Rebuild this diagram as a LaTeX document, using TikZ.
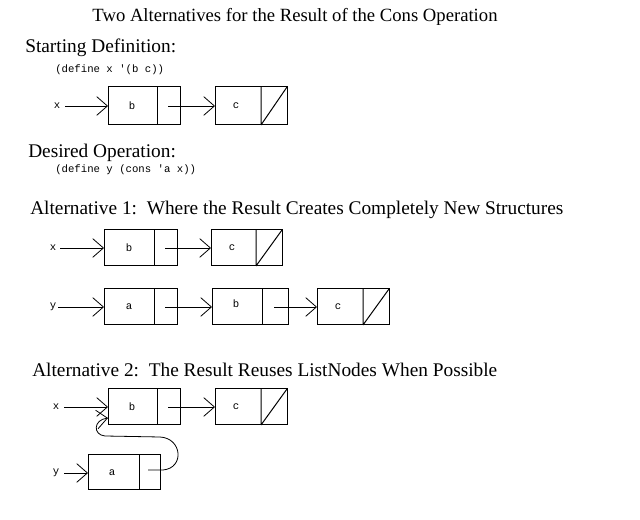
\documentclass[tikz,border=0pt]{standalone}
\usepackage{fontspec}
\setmainfont{Liberation Serif}
\setmonofont{Liberation Mono}
\usetikzlibrary{arrows.meta}
\begin{document}
\begin{tikzpicture}[x=0.75pt,y=-0.75pt,
  cell/.style={draw,line width=0.75pt},
  ptr/.style={-{Straight Barb[length=8pt,width=14pt]},line width=0.6pt},
  hd/.style={anchor=west,inner sep=0pt,font=\fontsize{14.5}{14.5}\selectfont},
  code/.style={anchor=west,inner sep=0pt,font=\ttfamily\fontsize{8}{8}\selectfont},
  lab/.style={inner sep=0pt,font=\ttfamily\fontsize{8}{8}\selectfont}]
\useasboundingbox (0,0) rectangle (640,520);
\node[inner sep=0pt,font=\fontsize{14}{14}\selectfont] (title) at (295,17) {Two Alternatives for the Result of the Cons Operation};
\node[hd] (h1) at (25,48) {Starting Definition:};
\node[code] (c1) at (55,70) {(define x '(b c))};
\node[hd] (h2) at (28,153) {Desired Operation:};
\node[code] (c2) at (55,170) {(define y (cons 'a x))};
\node[hd] (h3) at (30,210) {Alternative 1:\ \ Where the Result Creates Completely New Structures};
\node[hd] (h4) at (32,370) {Alternative 2:\ \ The Result Reuses ListNodes When Possible};

% Starting definition
\node[lab] (x0) at (57,106) {x};
\draw[cell] (108,87) rectangle (180,125); \draw[cell] (157,87) -- (157,125);
\node[lab] (b0) at (132,106) {b};
\draw[cell] (215,87) rectangle (287,125); \draw[cell] (261,87) -- (261,125) (261,125) -- (287,87);
\node[lab] (cc0) at (236,106) {c};
\coordinate (x0out) at (65,106);
\coordinate (b0in) at (108,106); \coordinate (b0p) at (168,106); \coordinate (c0in) at (215,106);
\draw[ptr] (x0out) -- (b0in);
\draw[ptr] (b0p) -- (c0in);

% Alt 1 x
\node[lab] (x1) at (53,248) {x};
\draw[cell] (104,230) rectangle (177,266); \draw[cell] (154,230) -- (154,266);
\node[lab] (b1) at (129,248) {b};
\draw[cell] (211,230) rectangle (282,266); \draw[cell] (256,230) -- (256,266) (256,266) -- (282,230);
\node[lab] (cc1) at (232,248) {c};
\coordinate (x1out) at (60,248);
\coordinate (b1in) at (104,248); \coordinate (b1p) at (165,248); \coordinate (c1in) at (211,248);
\draw[ptr] (x1out) -- (b1in);
\draw[ptr] (b1p) -- (c1in);
% Alt 1 y
\node[lab] (y1) at (53,307) {y};
\draw[cell] (104,289) rectangle (177,325); \draw[cell] (154,289) -- (154,325);
\node[lab] (a1) at (129,307) {a};
\draw[cell] (212,289) rectangle (288,325); \draw[cell] (262,289) -- (262,325);
\node[lab] (b2) at (236,304) {b};
\draw[cell] (317,289) rectangle (389,325); \draw[cell] (363,289) -- (363,325) (363,325) -- (389,289);
\node[lab] (cc2) at (338,307) {c};
\coordinate (y1out) at (58,307);
\coordinate (a1in) at (104,307); \coordinate (a1p) at (165,307); \coordinate (b2in) at (212,307);
\coordinate (b2p) at (274,307); \coordinate (c2in) at (317,307);
\draw[ptr] (y1out) -- (a1in);
\draw[ptr] (a1p) -- (b2in);
\draw[ptr] (b2p) -- (c2in);

% Alt 2
\node[lab] (x2) at (56,407) {x};
\draw[cell] (108,389) rectangle (180,425); \draw[cell] (157,389) -- (157,425);
\node[lab] (b3) at (132,407) {b};
\draw[cell] (215,389) rectangle (287,425); \draw[cell] (261,389) -- (261,425) (261,425) -- (287,389);
\node[lab] (cc3) at (236,407) {c};
\coordinate (x2out) at (64,407);
\coordinate (b3in) at (108,407); \coordinate (b3p) at (168,407); \coordinate (c3in) at (215,407);
\draw[ptr] (x2out) -- (b3in);
\draw[ptr] (b3p) -- (c3in);
\node[lab] (y2) at (56,473) {y};
\draw[cell] (88,455) rectangle (160,490); \draw[cell] (139,455) -- (139,490);
\node[lab] (a2) at (112,473) {a};
\coordinate (y2out) at (64,473);
\coordinate (a2in) at (88,473); \coordinate (a2p) at (148,470); \coordinate (b3bot) at (108,418);
\draw[ptr] (y2out) -- (a2in);
\draw[ptr] (a2p) -- (163,470) .. controls (185,468) and (182,438) .. (160,437)
  -- (105,436) .. controls (93,435) and (93,420) .. (b3bot);
\end{tikzpicture}
\end{document}
